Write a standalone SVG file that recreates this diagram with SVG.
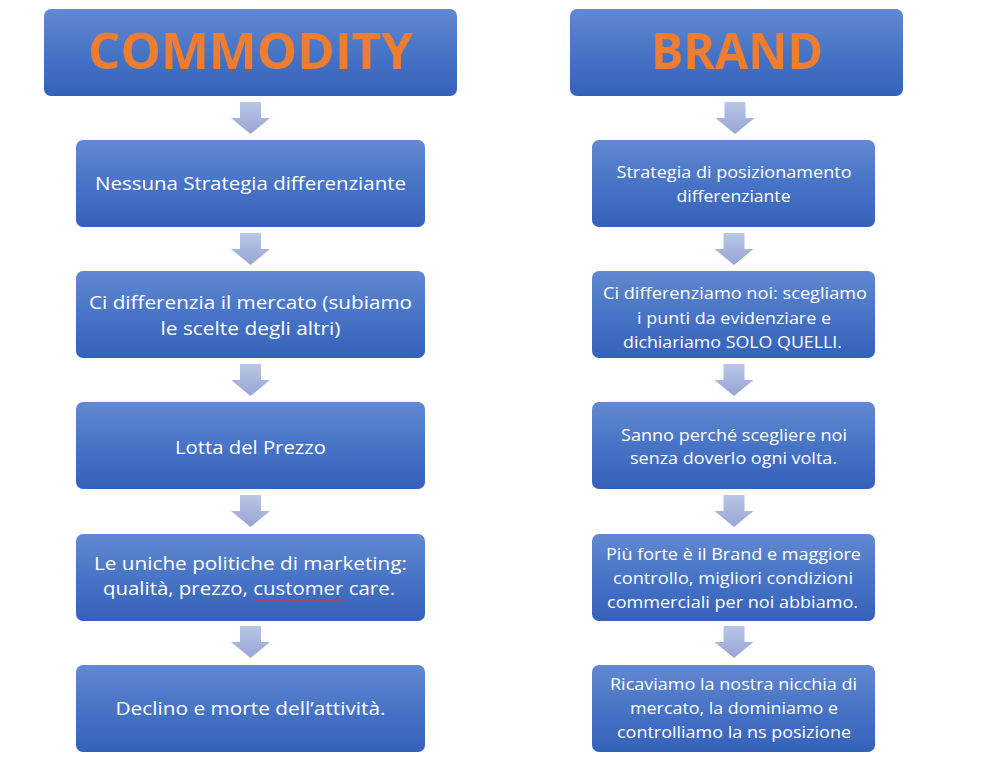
<svg xmlns="http://www.w3.org/2000/svg" width="989" height="770" viewBox="0 0 989 770">
<defs>
<linearGradient id="boxg" x1="0" y1="0" x2="0" y2="1">
<stop offset="0" stop-color="#6289D0"/>
<stop offset="0.5" stop-color="#4774C6"/>
<stop offset="1" stop-color="#3562B9"/>
</linearGradient>
<linearGradient id="arrg" x1="0" y1="0" x2="0" y2="1">
<stop offset="0" stop-color="#BAC6E6"/>
<stop offset="1" stop-color="#97A5D4"/>
</linearGradient>
<path id="arrow" d="M-10.5,0 H10.5 V16 H19.5 L0,32 L-19.5,16 H-10.5 Z"/>
</defs>
<style>
.box{fill:url(#boxg);}
.arr{fill:url(#arrg);}
.hd{font-family:"Open Sans","Liberation Sans",sans-serif;font-weight:bold;font-size:50px;fill:#ED7D31;text-anchor:middle;}
.tl{font-family:"Open Sans","Liberation Sans",sans-serif;font-size:19px;fill:#FFFFFF;text-anchor:middle;}
.tr{font-family:"Open Sans","Liberation Sans",sans-serif;font-size:17px;fill:#FFFFFF;text-anchor:middle;}
</style>
<rect width="989" height="770" fill="#FFFFFF"/>

<g id="connectors">
<use href="#arrow" class="arr" x="250.5" y="102"/>
<use href="#arrow" class="arr" x="250.5" y="233"/>
<use href="#arrow" class="arr" x="250.5" y="364"/>
<use href="#arrow" class="arr" x="250.5" y="495"/>
<use href="#arrow" class="arr" x="250.5" y="626"/>
<use href="#arrow" class="arr" x="735" y="102"/>
<use href="#arrow" class="arr" x="734" y="233"/>
<use href="#arrow" class="arr" x="734" y="364"/>
<use href="#arrow" class="arr" x="734" y="495"/>
<use href="#arrow" class="arr" x="734" y="626"/>
</g>

<g id="commodity">
<rect class="box" x="44" y="9" width="413" height="87" rx="7"/>
<text class="hd" x="250.5" y="68.5" textLength="325" lengthAdjust="spacingAndGlyphs">COMMODITY</text>
</g>
<g id="brand">
<rect class="box" x="570" y="9" width="333" height="87" rx="7"/>
<text class="hd" x="737" y="68.5" textLength="172" lengthAdjust="spacingAndGlyphs">BRAND</text>
</g>

<g id="c1">
<rect class="box" x="76" y="140" width="349" height="87" rx="7"/>
<text class="tl" x="250.5" y="190" textLength="311" lengthAdjust="spacingAndGlyphs">Nessuna Strategia differenziante</text>
</g>
<g id="c2">
<rect class="box" x="76" y="271" width="349" height="87" rx="7"/>
<text class="tl" x="250.5" y="308.5" textLength="323" lengthAdjust="spacingAndGlyphs">Ci differenzia il mercato (subiamo</text>
<text class="tl" x="250.5" y="334.5" textLength="180" lengthAdjust="spacingAndGlyphs">le scelte degli altri)</text>
</g>
<g id="c3">
<rect class="box" x="76" y="402" width="349" height="87" rx="7"/>
<text class="tl" x="250.5" y="453.5" textLength="151" lengthAdjust="spacingAndGlyphs">Lotta del Prezzo</text>
</g>
<g id="c4">
<rect class="box" x="76" y="534" width="349" height="87" rx="7"/>
<text class="tl" x="250.5" y="569.5" textLength="313" lengthAdjust="spacingAndGlyphs">Le uniche politiche di marketing:</text>
<text class="tl" x="249" y="594.5" textLength="292" lengthAdjust="spacingAndGlyphs">qualità, prezzo, customer care.</text>
<path d="M255,599.5 l2,1.5 l2,-1.5 l2,1.5 l2,-1.5 l2,1.5 l2,-1.5 l2,1.5 l2,-1.5 l2,1.5 l2,-1.5 l2,1.5 l2,-1.5 l2,1.5 l2,-1.5 l2,1.5 l2,-1.5 l2,1.5 l2,-1.5 l2,1.5 l2,-1.5 l2,1.5 l2,-1.5 l2,1.5 l2,-1.5 l2,1.5 l2,-1.5 l2,1.5 l2,-1.5 l2,1.5 l2,-1.5 l2,1.5 l2,-1.5 l2,1.5 l2,-1.5 l2,1.5 l2,-1.5 l2,1.5 l2,-1.5 l2,1.5 l2,-1.5 l2,1.5 l2,-1.5 l2,1.5 l2,-1.5 l2,1.5" fill="none" stroke="#E0303A" stroke-width="0.9"/>
</g>
<g id="c5">
<rect class="box" x="76" y="665" width="349" height="87" rx="7"/>
<text class="tl" x="250.5" y="714.5" textLength="270" lengthAdjust="spacingAndGlyphs">Declino e morte dell’attività.</text>
</g>

<g id="b1">
<rect class="box" x="592" y="140" width="283" height="87" rx="7"/>
<text class="tr" x="734" y="178" textLength="235" lengthAdjust="spacingAndGlyphs">Strategia di posizionamento</text>
<text class="tr" x="733.5" y="202" textLength="114" lengthAdjust="spacingAndGlyphs">differenziante</text>
</g>
<g id="b2">
<rect class="box" x="592" y="271" width="283" height="87" rx="7"/>
<text class="tr" x="735" y="299" textLength="264" lengthAdjust="spacingAndGlyphs">Ci differenziamo noi: scegliamo</text>
<text class="tr" x="734" y="324" textLength="194" lengthAdjust="spacingAndGlyphs">i punti da evidenziare e</text>
<text class="tr" x="732.5" y="348" textLength="219" lengthAdjust="spacingAndGlyphs">dichiariamo SOLO QUELLI.</text>
</g>
<g id="b3">
<rect class="box" x="592" y="402" width="283" height="87" rx="7"/>
<text class="tr" x="734" y="441" textLength="226" lengthAdjust="spacingAndGlyphs">Sanno perché scegliere noi</text>
<text class="tr" x="733.5" y="464" textLength="207" lengthAdjust="spacingAndGlyphs">senza doverlo ogni volta.</text>
</g>
<g id="b4">
<rect class="box" x="592" y="534" width="283" height="87" rx="7"/>
<text class="tr" x="733.5" y="560" textLength="255" lengthAdjust="spacingAndGlyphs">Più forte è il Brand e maggiore</text>
<text class="tr" x="733" y="584" textLength="240" lengthAdjust="spacingAndGlyphs">controllo, migliori condizioni</text>
<text class="tr" x="732.5" y="608" textLength="251" lengthAdjust="spacingAndGlyphs">commerciali per noi abbiamo.</text>
</g>
<g id="b5">
<rect class="box" x="592" y="665" width="283" height="87" rx="7"/>
<text class="tr" x="733.5" y="690" textLength="247" lengthAdjust="spacingAndGlyphs">Ricaviamo la nostra nicchia di</text>
<text class="tr" x="734" y="714" textLength="208" lengthAdjust="spacingAndGlyphs">mercato, la dominiamo e</text>
<text class="tr" x="734" y="738" textLength="234" lengthAdjust="spacingAndGlyphs">controlliamo la ns posizione</text>
</g>
</svg>
